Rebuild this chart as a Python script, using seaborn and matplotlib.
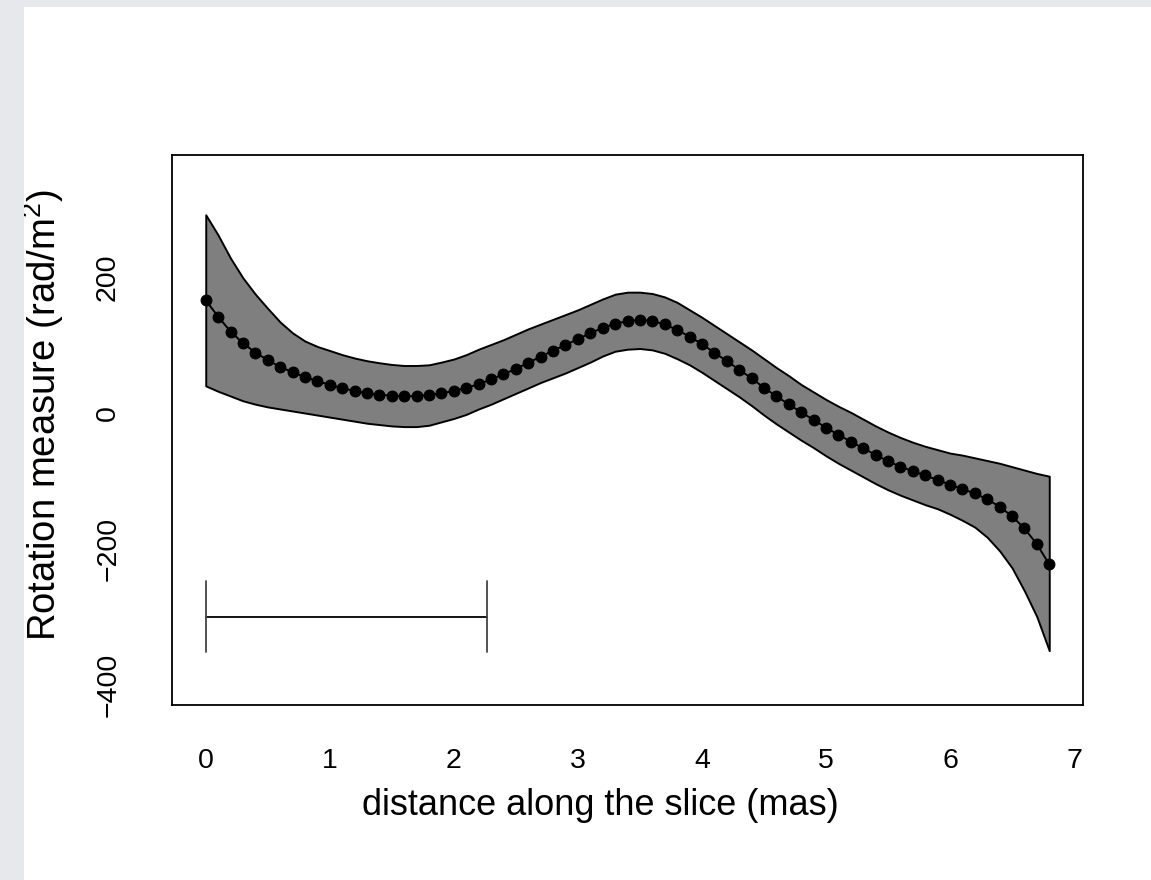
import numpy as np
import pandas as pd
import matplotlib
matplotlib.use("Agg")
import matplotlib.pyplot as plt
import seaborn as sns
from matplotlib.patches import Rectangle

# ---- data ----
distance = [round(0.1 * i, 1) for i in range(69)]  # mas, 0.0 .. 6.8

rm_mean = [166, 142, 120, 103, 89, 78, 68, 60, 53, 47,
           41.5, 36.5, 32.5, 29, 27, 25.5, 24.7, 25, 26.7, 29,
           32.6, 37, 42.5, 49.5, 57, 65, 74, 83, 92, 100,
           109, 117.5, 125.5, 131.5, 135.5, 137, 135.5, 130.5, 122.5, 112.5,
           101.7, 89, 76.5, 64, 51, 37.5, 24.5, 13, 1, -10,
           -21.5, -32, -42, -52, -61.5, -71, -79, -85.5, -92, -98.5,
           -105.5, -112, -118.5, -127, -138, -152, -170, -193, -223]

rm_upper = [292, 262, 228, 199, 175, 154, 134, 118, 106, 98,
            92, 86, 81, 77, 74, 71.5, 70, 70, 71, 75,
            79.5, 86, 94, 101, 108, 116, 124, 131, 138, 145,
            152, 160, 168, 175, 178, 178, 176, 171, 163, 152,
            141, 129, 117, 105, 93, 80, 67, 55, 42, 31,
            20, 10, 1, -9, -19, -28, -36, -43, -49, -54,
            -59, -62, -66, -70, -74, -79, -84, -89, -93]

rm_lower = [40, 32, 25, 18, 13, 9, 6, 3, 0, -3,
            -6, -9, -12, -15, -17, -19, -20, -20, -18, -13,
            -8, -2, 6, 13, 21, 29, 37, 45, 52, 59,
            67, 75, 84, 91, 94, 95, 93, 88, 80, 71,
            60, 48, 36, 24, 11, -3, -16, -28, -40, -51,
            -63, -74, -84, -94, -104, -113, -121, -128, -135, -141,
            -149, -158, -168, -183, -203, -228, -262, -300, -350]

# scale bar
bar_x = [0.0, 2.265]
bar_y = -300
bar_cap = [-248, -352]

x_ticks = [0, 1, 2, 3, 4, 5, 6, 7]
y_ticks = [-400, -200, 0, 200]
x_label = "distance along the slice (mas)"
y_label = "Rotation measure (rad/m$^2$)"

df = pd.DataFrame({"distance": distance, "rm": rm_mean,
                   "upper": rm_upper, "lower": rm_lower})

# ---- style ----
sns.set_style("white")
plt.rcParams["font.family"] = ["Liberation Sans", "DejaVu Sans"]
plt.rcParams["mathtext.fontset"] = "custom"
plt.rcParams["mathtext.rm"] = "Liberation Sans"
plt.rcParams["text.color"] = "black"
plt.rcParams["axes.labelcolor"] = "black"

W, H = 1151, 880
fig = plt.figure(figsize=(W / 100, H / 100), dpi=100)
fig.patch.set_facecolor("white")
# slide border (light gray strips)
fig.patches.append(Rectangle((0, 0), 24 / W, 1, transform=fig.transFigure,
                             facecolor="#e6e8ec", edgecolor="none", zorder=0))
fig.patches.append(Rectangle((0, 1 - 7 / H), 1, 7 / H, transform=fig.transFigure,
                             facecolor="#e6e8ec", edgecolor="none", zorder=0))

ax = fig.add_axes([172 / W, 1 - 705 / H, (1083 - 172) / W, (705 - 155) / H])
ax.set_facecolor("white")

# band
ax.fill_between(df["distance"], df["lower"], df["upper"],
                facecolor="#7f7f7f", edgecolor="black", linewidth=1.4, zorder=2)

# mean curve with points
sns.lineplot(data=df, x="distance", y="rm", ax=ax, color="black",
             linewidth=1.4, marker="o", markersize=7.8,
             markeredgecolor="black", markerfacecolor="black", zorder=3)

# scale bar
ax.plot(bar_x, [bar_y, bar_y], color="black", linewidth=1.3, zorder=3)
for bx in bar_x:
    ax.plot([bx, bx], bar_cap, color="#444444", linewidth=1.3, zorder=3)

# axes
ax.set_xlim(-0.272, 7.072)
ax.set_ylim(-430, 380)
ax.set_xticks(x_ticks)
ax.set_yticks(y_ticks)
ax.set_xticklabels([str(v) for v in x_ticks])
ax.set_yticklabels([str(v).replace("-", "\u2212") for v in y_ticks],
                   rotation=90, va="center", ha="center")
ax.tick_params(axis="both", direction="out", length=10, width=1.1,
               labelsize=20.5, color="black", labelcolor="black")
ax.tick_params(axis="x", pad=21)
ax.tick_params(axis="y", pad=36)
for s in ax.spines.values():
    s.set_visible(True)
    s.set_color("black")
    s.set_linewidth(1.3)

ax.set_xlabel(x_label, fontsize=26, color="black")
ax.set_ylabel(y_label, fontsize=27.5, color="black")
# label positions (axes fraction)
ax.xaxis.set_label_coords((600 - 172) / (1083 - 172), -(788 - 705) / (705 - 155))
ax.yaxis.set_label_coords(-(172 - 66) / (1083 - 172), (705 - 415) / (705 - 155))
ax.xaxis.label.set_va("top")
ax.yaxis.label.set_va("bottom")

fig.savefig("out.png", dpi=100, facecolor=fig.get_facecolor())
